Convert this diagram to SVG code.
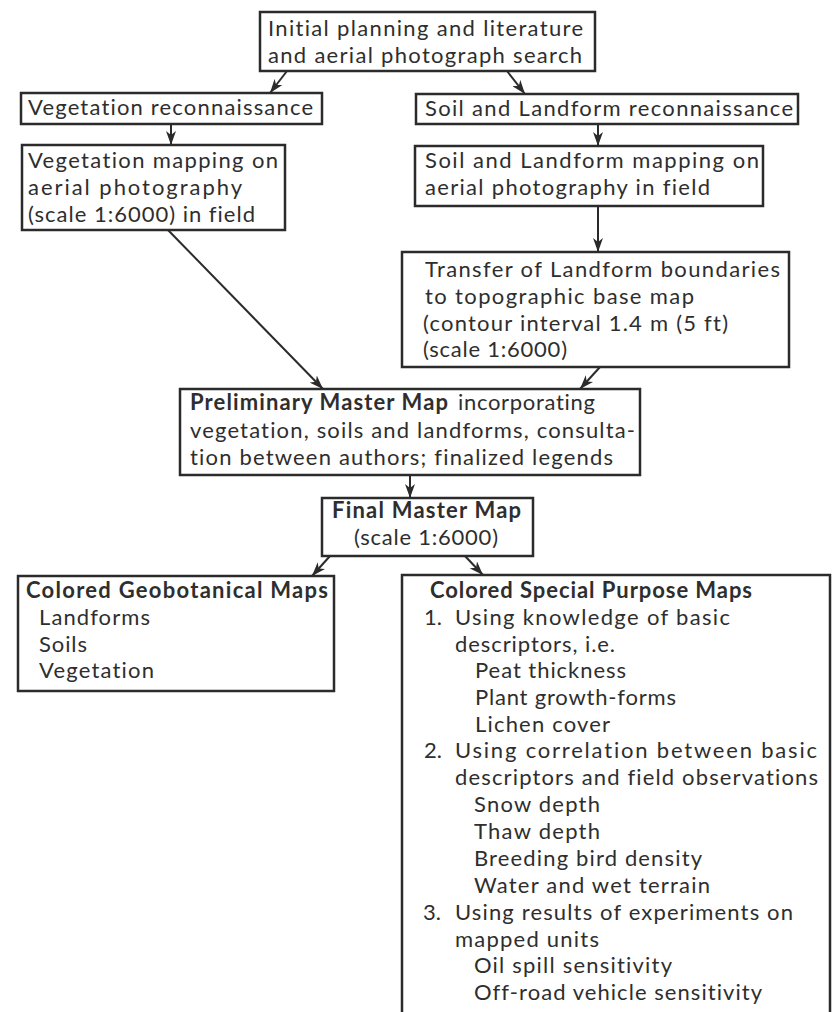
<svg xmlns="http://www.w3.org/2000/svg" width="835" height="1012" viewBox="0 0 835 1012">
<style>
.box{fill:#fff;stroke:#2b2b2b;stroke-width:2.5}
.t{font-family:Lato,"Open Sans","Noto Sans",sans-serif;font-size:22px;fill:#2e2e2e;font-variant-ligatures:none;font-feature-settings:"liga" 0}
.b{font-weight:bold}
.c{stroke:#2b2b2b;stroke-width:2;fill:none;marker-end:url(#ah)}
</style>
<defs>
<marker id="ah" markerUnits="userSpaceOnUse" markerWidth="14" markerHeight="10" refX="14" refY="5" orient="auto">
<path d="M0,0 L14,5 L0,10 L4,5 z" fill="#2b2b2b"/>
</marker>
</defs>
<rect width="835" height="1012" fill="#fff"/>
<g id="connectors">
<line class="c" x1="287" y1="71" x2="270" y2="93"/>
<line class="c" x1="507" y1="71" x2="525" y2="94"/>
<line class="c" x1="171" y1="124" x2="171" y2="145"/>
<line class="c" x1="598" y1="124" x2="598" y2="146"/>
<line class="c" x1="168" y1="230" x2="323" y2="389"/>
<line class="c" x1="598" y1="206" x2="598" y2="252"/>
<line class="c" x1="600" y1="367" x2="580" y2="389"/>
<line class="c" x1="410" y1="475" x2="410" y2="498"/>
<line class="c" x1="330" y1="556" x2="312" y2="576"/>
<line class="c" x1="465" y1="556" x2="483" y2="575"/>
</g>
<g id="n-initial">
<rect class="box" x="260" y="12" width="335" height="59"/>
<text class="t" x="268" y="36" textLength="315" lengthAdjust="spacing">Initial planning and literature</text>
<text class="t" x="268" y="63" textLength="314" lengthAdjust="spacing">and aerial photograph search</text>
</g>
<g id="n-vegrecon">
<rect class="box" x="21" y="93" width="301" height="31"/>
<text class="t" x="28" y="115" textLength="285" lengthAdjust="spacing">Vegetation reconnaissance</text>
</g>
<g id="n-soilrecon">
<rect class="box" x="416" y="94" width="382" height="30"/>
<text class="t" x="425" y="116" textLength="368" lengthAdjust="spacing">Soil and Landform reconnaissance</text>
</g>
<g id="n-vegmap">
<rect class="box" x="22" y="145" width="263" height="85"/>
<text class="t" x="28" y="168" textLength="250" lengthAdjust="spacing">Vegetation mapping on</text>
<text class="t" x="28" y="195" textLength="214" lengthAdjust="spacing">aerial photography</text>
<text class="t" x="28" y="222" textLength="227" lengthAdjust="spacing">(scale 1:6000) in field</text>
</g>
<g id="n-soilmap">
<rect class="box" x="415" y="146" width="348" height="60"/>
<text class="t" x="425" y="168" textLength="334" lengthAdjust="spacing">Soil and Landform mapping on</text>
<text class="t" x="425" y="195" textLength="285" lengthAdjust="spacing">aerial photography in field</text>
</g>
<g id="n-transfer">
<rect class="box" x="402" y="252" width="387" height="115"/>
<text class="t" x="425" y="277" textLength="355" lengthAdjust="spacing">Transfer of Landform boundaries</text>
<text class="t" x="425" y="304" textLength="269" lengthAdjust="spacing">to topographic base map</text>
<text class="t" x="423" y="331" textLength="305" lengthAdjust="spacing">(contour interval 1.4 m (5 ft)</text>
<text class="t" x="423" y="357" textLength="144" lengthAdjust="spacing">(scale 1:6000)</text>
</g>
<g id="n-prelim">
<rect class="box" x="180" y="389" width="460" height="86"/>
<text class="t b" x="190" y="410" textLength="258" lengthAdjust="spacing">Preliminary Master Map</text>
<text class="t" x="458" y="410" textLength="137" lengthAdjust="spacing">incorporating</text>
<text class="t" x="190" y="438" textLength="445" lengthAdjust="spacing">vegetation, soils and landforms, consulta-</text>
<text class="t" x="190" y="465" textLength="423" lengthAdjust="spacing">tion between authors; finalized legends</text>
</g>
<g id="n-final">
<rect class="box" x="322" y="498" width="211" height="58"/>
<text class="t b" x="332" y="518" textLength="189" lengthAdjust="spacing">Final Master Map</text>
<text class="t" x="354" y="545" textLength="144" lengthAdjust="spacing">(scale 1:6000)</text>
</g>
<g id="n-geobot">
<rect class="box" x="18" y="576" width="316" height="115"/>
<text class="t b" x="26" y="598" textLength="302" lengthAdjust="spacing">Colored Geobotanical Maps</text>
<text class="t" x="39" y="625" textLength="111" lengthAdjust="spacing">Landforms</text>
<text class="t" x="39" y="652" textLength="48" lengthAdjust="spacing">Soils</text>
<text class="t" x="39" y="678" textLength="115" lengthAdjust="spacing">Vegetation</text>
</g>
<g id="n-special">
<rect class="box" x="402" y="575" width="428" height="450"/>
<text class="t b" x="430" y="598" textLength="322" lengthAdjust="spacing">Colored Special Purpose Maps</text>
<text class="t" x="424" y="625">1.</text>
<text class="t" x="455" y="625" textLength="275" lengthAdjust="spacing">Using knowledge of basic</text>
<text class="t" x="455" y="652" textLength="160" lengthAdjust="spacing">descriptors, i.e.</text>
<text class="t" x="475" y="678" textLength="151" lengthAdjust="spacing">Peat thickness</text>
<text class="t" x="475" y="705" textLength="201" lengthAdjust="spacing">Plant growth-forms</text>
<text class="t" x="475" y="732" textLength="135" lengthAdjust="spacing">Lichen cover</text>
<text class="t" x="424" y="758">2.</text>
<text class="t" x="455" y="758" textLength="362" lengthAdjust="spacing">Using correlation between basic</text>
<text class="t" x="455" y="785" textLength="363" lengthAdjust="spacing">descriptors and field observations</text>
<text class="t" x="474" y="812" textLength="126" lengthAdjust="spacing">Snow depth</text>
<text class="t" x="474" y="839" textLength="126" lengthAdjust="spacing">Thaw depth</text>
<text class="t" x="474" y="866" textLength="228" lengthAdjust="spacing">Breeding bird density</text>
<text class="t" x="474" y="893" textLength="236" lengthAdjust="spacing">Water and wet terrain</text>
<text class="t" x="423" y="920">3.</text>
<text class="t" x="455" y="920" textLength="338" lengthAdjust="spacing">Using results of experiments on</text>
<text class="t" x="455" y="947" textLength="144" lengthAdjust="spacing">mapped units</text>
<text class="t" x="474" y="973" textLength="198" lengthAdjust="spacing">Oil spill sensitivity</text>
<text class="t" x="474" y="1000" textLength="288" lengthAdjust="spacing">Off-road vehicle sensitivity</text>
</g>
</svg>
